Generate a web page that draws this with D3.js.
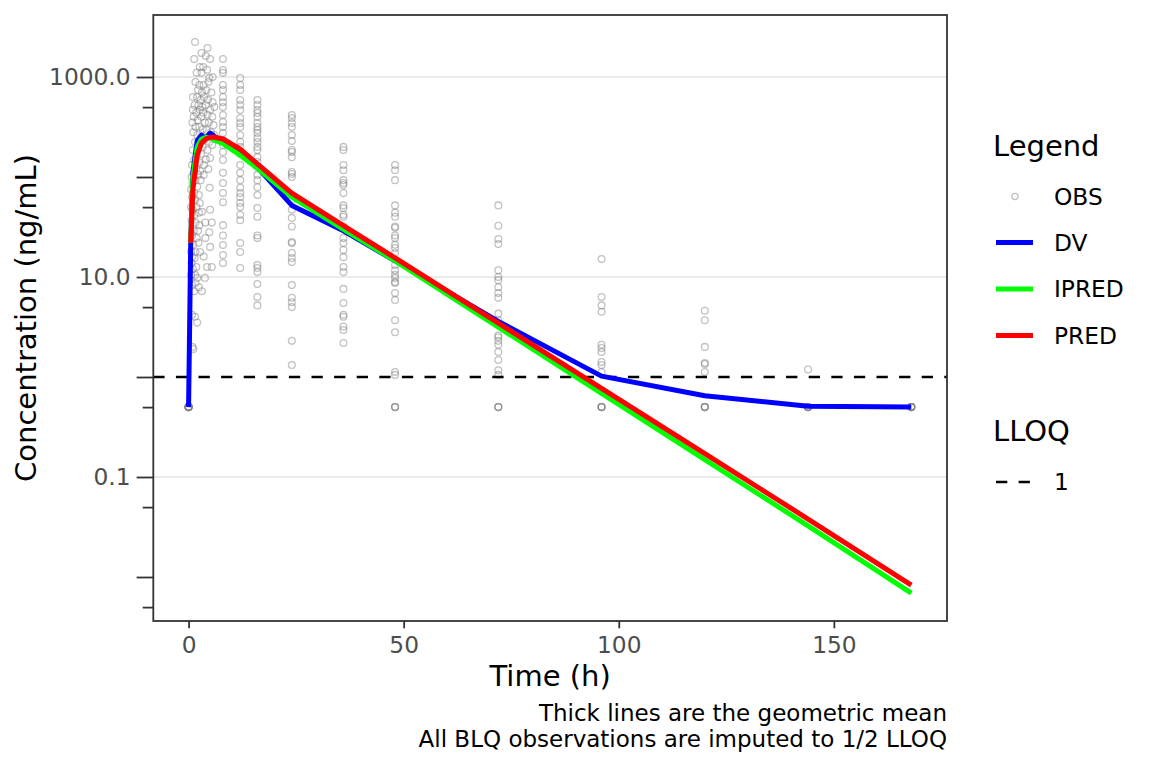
<!DOCTYPE html>
<html>
<head>
<meta charset="utf-8">
<script src="https://cdn.jsdelivr.net/npm/d3@7"></script>
<style>
  body { margin: 0; background: #fff; }
  svg { display: block; font-family: "DejaVu Sans", sans-serif; }
</style>
</head>
<body>
<svg id="chart" width="1152" height="768"></svg>
<script>
// observations (ng/mL), BLQ shown at 1/2 LLOQ = 0.5
const obsEarly = [
  [1.5, 2240], [4.4, 1950], [1.3, 1510], [3.0, 1740], [4.0, 1620], [5.0, 1510], [2.6, 1260], [3.4, 1260],
  [4.3, 1180], [1.9, 1100], [3.0, 1100], [4.8, 980], [1.6, 890], [2.5, 830], [3.5, 830], [4.6, 890],
  [5.6, 1000], [2.2, 740], [3.1, 700], [4.1, 740], [5.3, 700], [1.0, 630], [2.0, 630], [2.8, 590],
  [3.6, 630], [4.5, 590], [5.6, 560], [1.4, 525], [2.3, 525], [3.2, 500], [4.0, 525], [5.0, 470],
  [6.0, 500], [1.0, 470], [1.8, 440], [2.6, 470], [3.4, 440], [4.4, 420], [5.5, 400], [1.2, 400],
  [2.1, 370], [3.0, 400], [3.8, 350], [4.7, 350], [5.8, 330], [0.9, 350], [1.6, 316], [2.5, 316],
  [3.3, 300], [4.2, 295], [5.2, 280], [6.0, 263], [1.1, 280], [2.0, 263], [2.8, 250], [3.7, 234],
  [4.8, 224], [1.5, 224], [2.4, 209], [3.3, 200], [4.4, 186], [5.5, 209], [1.0, 186], [1.9, 166],
  [2.9, 170], [4.0, 150], [5.0, 155], [1.3, 148], [2.5, 140], [3.6, 132], [0.8, 132], [1.8, 123],
  [2.7, 115], [4.6, 120], [1.2, 110], [2.2, 105], [3.5, 105], [0.7, 100], [1.6, 93], [2.8, 93],
  [0.9, 85], [2.0, 80], [4.9, 78], [0.6, 75], [1.3, 69], [2.4, 66], [0.8, 63], [1.5, 59],
  [0.6, 50], [1.8, 50], [2.6, 55], [5.0, 47], [3.1, 45], [0.9, 47], [1.4, 42], [2.4, 44],
  [0.7, 37], [1.6, 35], [3.9, 35], [5.4, 35], [2.5, 33], [4.8, 28], [1.2, 29], [2.2, 29],
  [0.8, 26], [3.9, 24.5], [1.9, 24.5], [2.3, 22], [1.1, 21], [5.0, 20], [0.6, 18], [2.7, 17.8],
  [1.6, 17.8], [3.5, 16], [0.9, 16], [1.4, 15.5], [0.7, 13.8], [4.3, 12.6], [1.8, 12.6], [5.4, 12.6],
  [1.0, 12], [0.6, 10.5], [1.5, 10.5], [3.8, 9.8], [2.0, 9.8], [1.6, 8.7], [2.4, 7.9], [0.8, 8.3],
  [3.1, 7.2], [1.3, 7.2], [0.8, 4.2], [1.5, 4.0], [2.0, 3.5], [0.9, 2.0], [1.1, 1.9]
];
const obs0h = [0.5, 0.5, 0.5, 0.5, 0.5, 0.5, 0.5, 0.5];
const obs8h = [1514, 1175, 1100, 832, 741, 631, 560, 500, 417, 355, 316, 275, 234, 209, 178, 148,
  110, 87, 69, 56, 33, 26, 20.9, 16.6, 13.8];
const obs12h = [977, 832, 741, 589, 525, 468, 389, 347, 316, 263, 224, 200, 170, 132, 110, 93,
  78, 69, 63, 55, 50, 42, 37, 21.9, 17.8, 12.3];
const obs16h = [589, 525, 468, 437, 398, 347, 316, 295, 275, 245, 224, 200, 186, 158, 141, 126,
  105, 93, 79, 66, 49, 40, 26, 24.5, 13.2, 12.3, 11.2, 8.5, 6.3, 5.2];
const obs24h = [417, 389, 347, 316, 263, 229, 186, 178, 158, 112, 107, 100, 59, 47, 39, 32,
  22.4, 21.9, 17.4, 15.5, 14.1, 8.3, 6.2, 5.6, 5.0, 2.3, 1.32];
const obs36h = [200, 186, 132, 117, 93, 87, 83, 69, 52, 49, 42, 40, 32, 24.5, 21.9, 18.6,
  15.8, 12.6, 11.2, 7.6, 5.5, 4.2, 4.0, 3.2, 2.95, 2.19];
const obs48h = [132, 117, 93, 52, 44, 40, 32, 31, 26, 24.5, 21, 19.5, 17.4, 13.2, 11.7, 10.5,
  9.8, 8.9, 8.7, 6.9, 5.9, 3.7, 2.8, 1.12, 1.05, 0.5, 0.5, 0.5];
const obs72h = [52, 32.6, 24, 21.4, 11.7, 10, 9.3, 7.9, 6.9, 6.2, 4.3, 3.7, 2.6, 2.5, 2.3, 2.1,
  1.78, 1.48, 1.17, 1.05, 0.5, 0.5, 0.5];
const obs96h = [15.1, 6.3, 5.2, 4.5, 2.1, 1.95, 1.78, 1.41, 1.32, 1.12, 0.5, 0.5, 0.5, 0.5];
const obs120h = [4.6, 3.7, 2.0, 1.38, 1.35, 1.12, 0.5, 0.5, 0.5, 0.5];
const obs144h = [1.19, 0.5, 0.5, 0.5, 0.5, 0.5];
const obs168h = [0.5, 0.5, 0.5, 0.5, 0.5, 0.5];

const nominalTimes = [0, 8, 12, 16, 24, 36, 48, 72, 96, 120, 144, 168];
const nominalObs = [obs0h, obs8h, obs12h, obs16h, obs24h, obs36h, obs48h, obs72h, obs96h, obs120h, obs144h, obs168h];

// geometric means
const meanTimes = [0, 0.5, 1, 2, 3, 4, 5, 6, 8, 12, 16, 24, 36, 48, 72, 96, 120, 144, 168];
const dvMean = [0.5, 22, 110, 230, 262, 245, 275, 255, 225, 180, 125, 52, 29, 14.5, 3.6, 1.02, 0.65, 0.51, 0.5];
const ipredMean = [null, 22, 100, 200, 240, 250, 245, 235, 215, 165, 122, 63, 30, 14.5, 3.15, 0.686, 0.149, 0.0325, 0.0069];
const predMean = [null, 22, 75, 165, 218, 240, 250, 250, 240, 190, 135, 69, 32.6, 15.5, 3.46, 0.77, 0.171, 0.038, 0.0083];

const lloq = 1;
const majorLabelled = [1000, 10, 0.1];
const majorPlain = [100, 1, 0.01];
const minorTicks = [500, 50, 5, 0.5, 0.05, 0.005];
const xTicks = [0, 50, 100, 150];

const seriesNames = ["DV", "IPRED", "PRED"];
const seriesColors = ["#0000ff", "#00ff00", "#ff0000"];
const seriesValues = [dvMean, ipredMean, predMean];

const panel = { left: 153.3, right: 947, top: 15, bottom: 621 };
const svg = d3.select("#chart");

const x = d3.scaleLinear().domain([-8.2, 176.3]).range([panel.left, panel.right]);
const y = d3.scaleLog().domain([Math.pow(10, -2.44), Math.pow(10, 3.62)]).range([panel.bottom, panel.top]);

// grid
svg.append("g").selectAll("line")
    .data(majorLabelled)
    .join("line")
    .attr("x1", panel.left).attr("x2", panel.right)
    .attr("y1", d => y(d)).attr("y2", d => y(d))
    .attr("stroke", "#ebebeb").attr("stroke-width", 1.8);

// observations
const obsRows = obsEarly.map(([t, c]) => ({ t, c }));
nominalTimes.forEach((t, i) => nominalObs[i].forEach(c => obsRows.push({ t, c })));

const obsStyle = sel => sel
    .attr("r", 3.4)
    .attr("fill", "none")
    .attr("stroke", "#7f7f7f")
    .attr("stroke-opacity", 0.48)
    .attr("stroke-width", 1.3);

svg.append("g").selectAll("circle")
    .data(obsRows)
    .join("circle")
    .attr("cx", d => x(d.t))
    .attr("cy", d => y(d.c))
    .call(obsStyle);

// LLOQ
svg.append("line")
    .attr("x1", panel.left).attr("x2", panel.right)
    .attr("y1", y(lloq)).attr("y2", y(lloq))
    .attr("stroke", "#000").attr("stroke-width", 2.6)
    .attr("stroke-dasharray", "11.3,11.3");

// mean lines
const line = d3.line()
    .defined(d => d[1] != null)
    .x(d => x(d[0]))
    .y(d => y(d[1]));

seriesValues.forEach((vals, i) => {
    svg.append("path")
        .datum(meanTimes.map((t, j) => [t, vals[j]]))
        .attr("d", line)
        .attr("fill", "none")
        .attr("stroke", seriesColors[i])
        .attr("stroke-width", 5)
        .attr("stroke-linejoin", "round");
});

// panel border
svg.append("rect")
    .attr("x", panel.left).attr("y", panel.top)
    .attr("width", panel.right - panel.left).attr("height", panel.bottom - panel.top)
    .attr("fill", "none").attr("stroke", "#333333").attr("stroke-width", 1.8);

// axes
const styleAxis = g => {
    g.select(".domain").remove();
    g.selectAll(".tick line").attr("stroke", "#333333").attr("stroke-width", 1.8);
    g.selectAll(".tick text").attr("fill", "#4d4d4d").attr("font-size", "23.3px")
        .attr("font-family", "DejaVu Sans");
};

svg.append("g")
    .attr("transform", `translate(${panel.left},0)`)
    .call(d3.axisLeft(y).tickValues(majorLabelled).tickSize(16.7).tickPadding(6).tickFormat(d3.format(".1f")))
    .call(styleAxis);
svg.append("g")
    .attr("transform", `translate(${panel.left},0)`)
    .call(d3.axisLeft(y).tickValues(majorPlain).tickSize(16.7).tickFormat(""))
    .call(styleAxis);
svg.append("g")
    .attr("transform", `translate(${panel.left},0)`)
    .call(d3.axisLeft(y).tickValues(minorTicks).tickSize(10.6).tickFormat(""))
    .call(styleAxis);
svg.append("g")
    .attr("transform", `translate(0,${panel.bottom})`)
    .call(d3.axisBottom(x).tickValues(xTicks).tickSize(7.3).tickPadding(8).tickFormat(d3.format("d")))
    .call(styleAxis);

// titles
svg.append("text")
    .attr("x", (panel.left + panel.right) / 2).attr("y", 686)
    .attr("text-anchor", "middle").attr("font-size", "29px")
    .text("Time (h)");
svg.append("text")
    .attr("transform", `translate(36,${(panel.top + panel.bottom) / 2}) rotate(-90)`)
    .attr("text-anchor", "middle").attr("font-size", "29px")
    .text("Concentration (ng/mL)");

const caption = ["Thick lines are the geometric mean", "All BLQ observations are imputed to 1/2 LLOQ"];
svg.append("g").selectAll("text")
    .data(caption)
    .join("text")
    .attr("x", panel.right)
    .attr("y", (d, i) => 721 + i * 26)
    .attr("text-anchor", "end").attr("font-size", "23px")
    .text(d => d);

// legend
const lg = svg.append("g");
lg.append("text").attr("x", 993).attr("y", 156).attr("font-size", "29px").text("Legend");
const keyY = [196.5, 242.5, 289, 335.5];
lg.append("circle")
    .attr("cx", 1015).attr("cy", keyY[0])
    .call(obsStyle)
    .attr("r", 3.1);
lg.append("text").attr("x", 1054).attr("y", keyY[0]).attr("dy", "0.36em").attr("font-size", "23.3px").text("OBS");
seriesNames.forEach((name, i) => {
    lg.append("line")
        .attr("x1", 996).attr("x2", 1033)
        .attr("y1", keyY[i + 1]).attr("y2", keyY[i + 1])
        .attr("stroke", seriesColors[i]).attr("stroke-width", 5);
    lg.append("text").attr("x", 1054).attr("y", keyY[i + 1]).attr("dy", "0.36em")
        .attr("font-size", "23.3px").text(name);
});
lg.append("text").attr("x", 993).attr("y", 441).attr("font-size", "29px").text("LLOQ");
lg.append("line")
    .attr("x1", 996).attr("x2", 1033).attr("y1", 482).attr("y2", 482)
    .attr("stroke", "#000").attr("stroke-width", 2.6).attr("stroke-dasharray", "11.3,11.3");
lg.append("text").attr("x", 1054).attr("y", 482).attr("dy", "0.36em").attr("font-size", "23.3px").text(String(lloq));
</script>
</body>
</html>
